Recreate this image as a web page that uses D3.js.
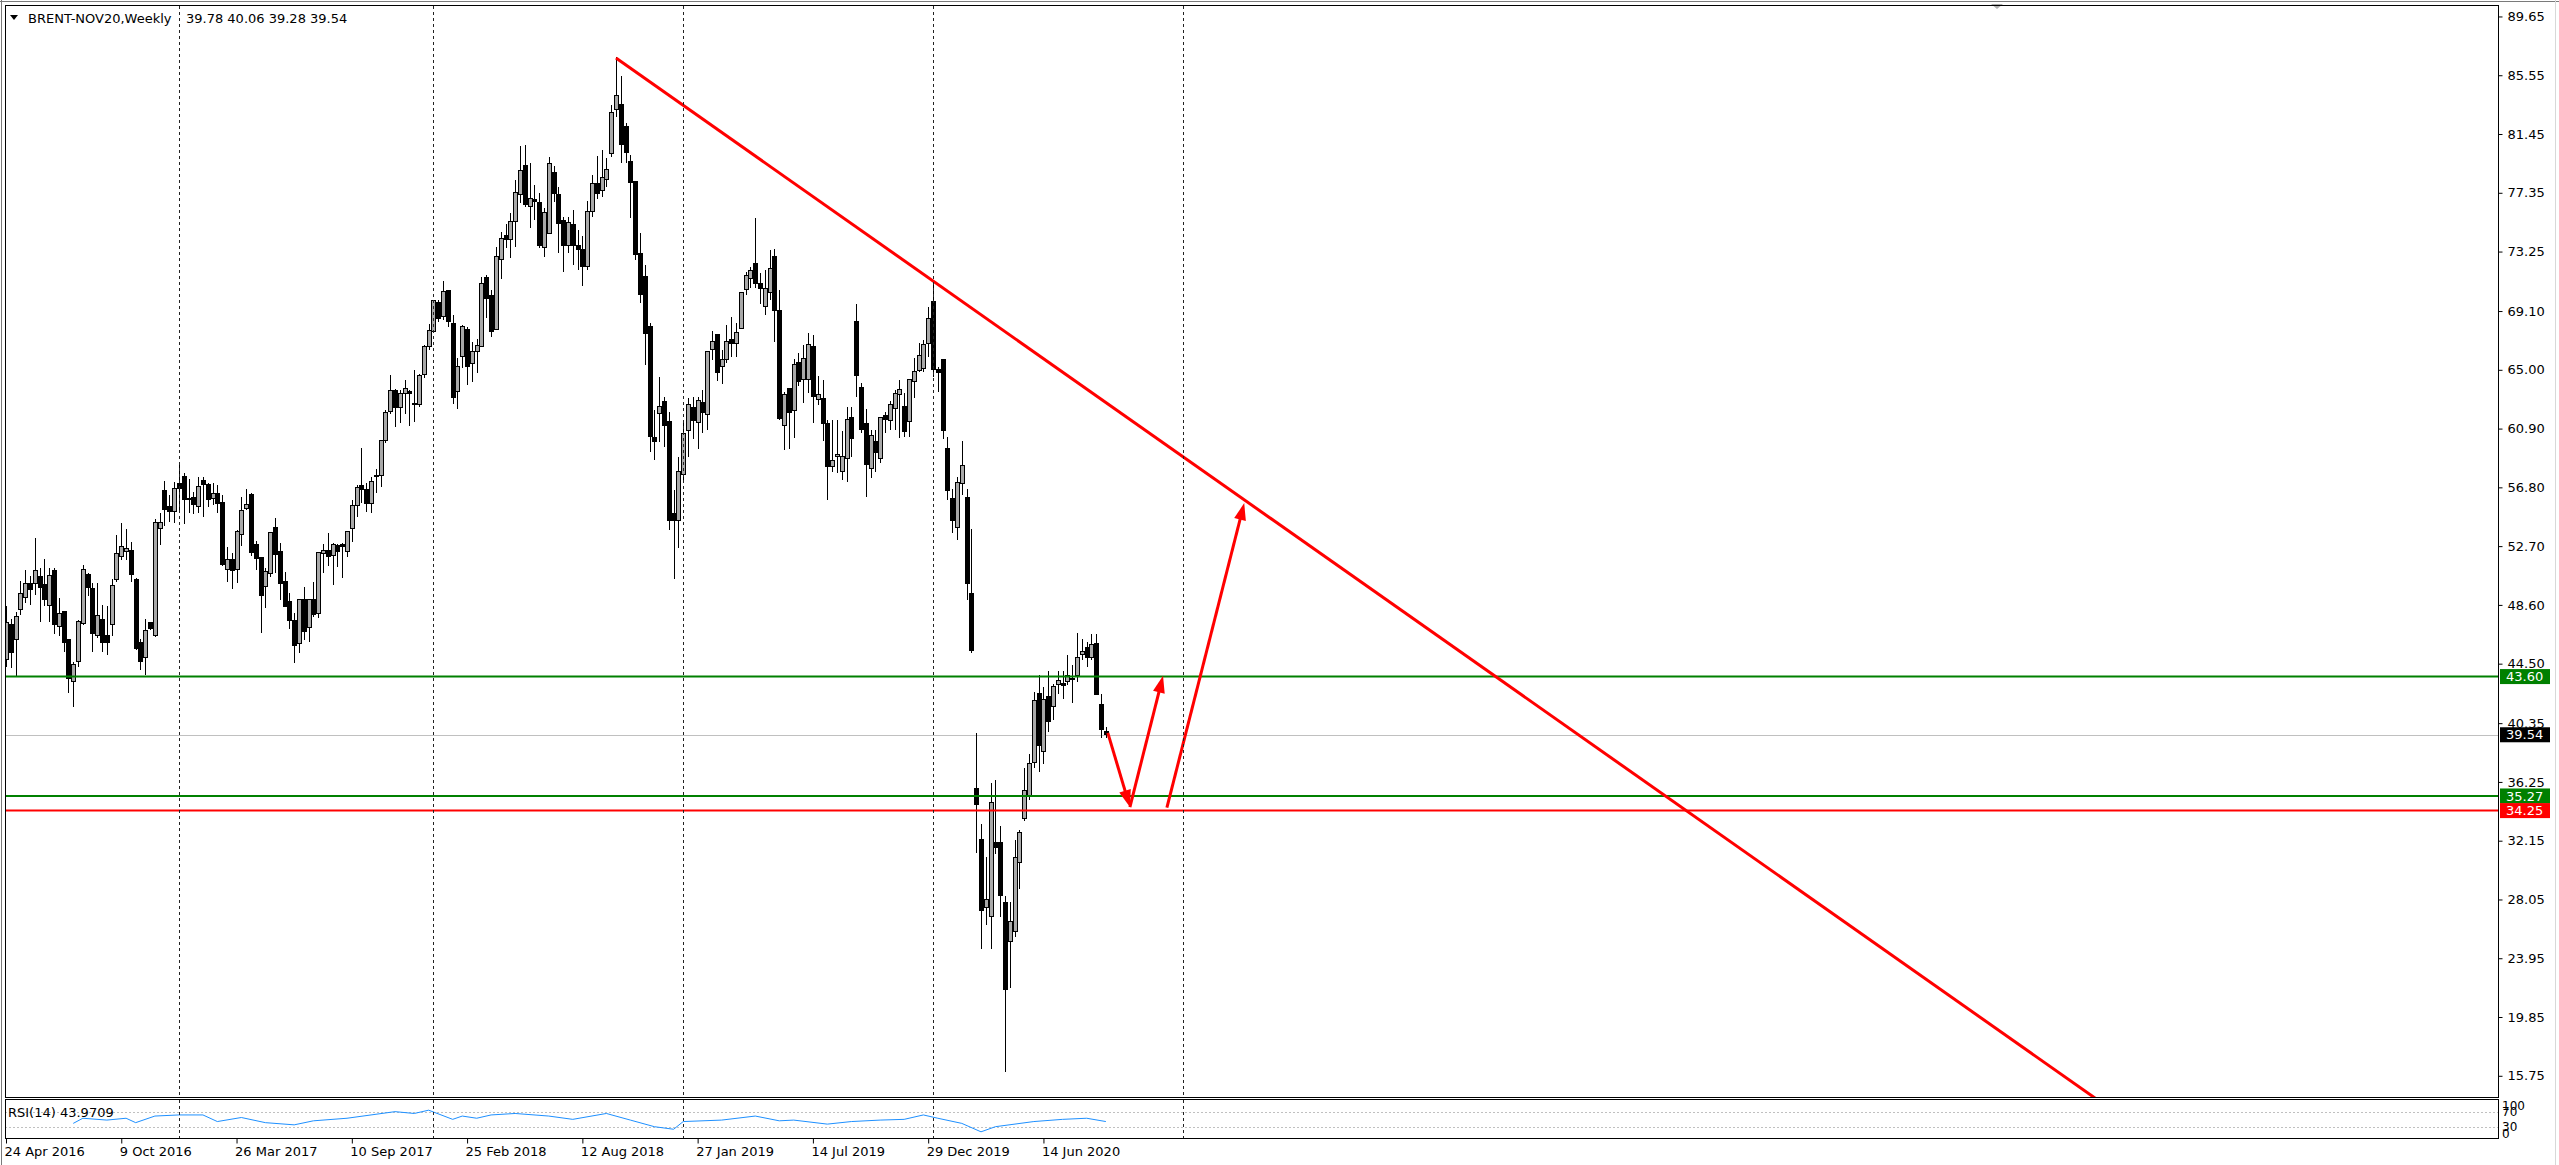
<!DOCTYPE html>
<html><head><meta charset="utf-8">
<script src="https://cdn.jsdelivr.net/npm/d3@7"></script>
<style>
html,body{margin:0;padding:0;background:#fff;overflow:hidden;}
svg{display:block;font-family:"DejaVu Sans",sans-serif;}
</style></head><body>
<svg id="c" width="2559" height="1165"></svg>
<script>
// ---- DATA (weekly bars, index 0 = week of 24 Apr 2016) ----
const opens = [44.8,47.2,46.2,48.25,49.13,50.1,50.1,50.6,49.99,48.53,50.99,47.09,48.13,46.16,43.25,44.65,47.32,50.69,49.76,46.5,47.6,46.5,47.2,50.34,51.97,52.32,52.39,50.39,45.97,44.95,47.37,46.44,53.95,56.58,55.46,55.11,57.09,57.55,56.04,56.11,55.46,57.27,56.97,56.04,56.39,55.74,51.04,51.74,51.04,53.48,55.34,56.27,52.78,51.92,49.87,50.8,53.99,52.31,50.22,48.82,47.54,45.92,48.99,47.03,48.99,48.01,52.2,52.38,52.08,52.73,52.78,52.31,53.94,55.5,56.9,56.66,55.64,57.66,57.66,60.1,62.08,63.55,62.38,63.36,63.48,62.66,62.55,64.64,66.62,67.66,69.69,68.71,70.52,68.2,63.5,65.96,67.82,65.45,66.31,66.66,71.45,70.15,67.82,72.73,74.34,74.1,75.34,77.2,79.22,76.38,76.9,76.66,73.54,74.5,78.75,77.2,75.4,73.7,75.17,73.64,73.4,72.2,76.03,78.01,77.54,78.29,80.1,83.17,83.52,81.96,79.52,78.13,73.08,71.54,68.01,60.3,61.96,62.78,61.38,54.99,54.52,57.73,60.76,62.4,61.3,62.73,61.9,66.4,67.43,65.2,65.73,67.13,66.85,67.9,70.6,71.38,72.43,71.04,69.45,70.38,72.9,69.17,61.15,63.7,62.15,65.5,64.33,64.33,66.62,62.94,63.0,61.27,58.25,58.94,57.9,58.83,61.68,68.36,63.78,61.22,58.13,60.0,58.83,61.78,61.45,62.3,63.25,62.43,61.38,64.17,64.94,65.1,66.85,69.76,65.0,65.73,59.5,56.0,54.0,57.1,56.08,49.41,35.8,32.25,27.5,26.85,32.0,32.05,27.85,25.1,25.8,30.6,33.67,35.2,37.62,42.4,38.36,42.2,41.5,43.08,43.13,43.25,43.4,43.69,45.11,45.62,44.94,45.92,41.67,39.78];
const highs = [48.5,47.6,48.1,50.3,51.0,50.6,53.3,51.2,51.8,51.2,51.2,49.1,48.13,46.16,44.65,47.56,51.4,50.8,50.1,50.16,48.6,48.5,50.4,53.5,54.34,53.88,53.0,50.46,46.2,47.6,47.44,54.57,54.99,57.27,56.27,57.2,58.37,57.78,57.37,56.5,57.5,57.5,57.1,57.1,56.97,56.27,52.66,52.2,53.83,56.1,56.66,56.38,53.08,51.92,51.15,53.64,54.64,52.94,50.92,49.4,48.0,48.99,49.87,48.99,50.22,52.24,52.85,53.64,52.9,52.85,52.9,53.71,55.92,56.97,59.52,57.08,57.55,58.1,60.1,62.2,64.64,63.64,63.59,64.29,63.59,65.0,64.71,66.73,68.2,69.87,69.87,71.22,70.52,68.8,65.8,68.13,68.0,66.96,67.13,71.5,71.61,70.57,73.6,74.64,75.2,75.96,78.24,80.6,80.68,79.45,77.9,77.31,76.27,79.82,79.22,77.78,75.68,75.68,76.15,74.75,74.34,76.8,78.59,79.92,80.33,79.75,83.48,86.8,85.5,82.2,79.99,78.13,74.52,72.31,68.24,62.2,64.52,63.13,62.08,56.6,58.9,61.3,63.0,63.1,63.1,63.6,66.3,67.7,67.43,66.4,68.1,68.7,68.3,70.45,71.85,72.2,75.57,71.73,71.97,73.36,73.4,70.57,63.48,63.7,65.73,66.2,66.7,67.6,67.43,64.6,64.3,61.5,61.5,61.5,60.7,62.4,62.4,69.6,64.1,62.3,60.8,60.8,61.73,62.08,62.82,63.6,64.29,63.36,64.34,65.8,66.85,67.1,69.41,71.15,65.2,65.73,60.3,56.7,57.5,60.04,56.67,53.87,39.65,33.3,31.0,36.2,36.4,33.2,28.3,27.85,32.2,32.9,37.2,38.2,42.55,43.7,42.85,44.0,43.1,44.0,44.0,45.1,44.4,46.62,46.2,46.04,46.55,46.55,42.36,40.06];
const lows = [44.3,44.2,43.6,47.9,48.7,48.6,49.3,47.4,48.5,47.4,46.6,46.4,45.3,42.44,41.5,44.3,47.2,49.2,45.3,46.3,45.3,45.1,46.4,50.2,51.74,51.74,50.2,45.46,44.06,43.7,46.85,46.39,52.78,54.1,54.41,54.3,55.11,54.25,55.04,54.95,55.0,54.76,55.41,55.58,54.99,51.32,50.2,49.7,50.11,52.7,55.2,52.0,51.03,46.62,48.36,50.57,50.85,48.94,48.52,46.9,44.57,45.22,46.15,46.03,47.78,47.66,50.85,51.31,50.0,51.27,50.45,51.96,53.01,54.75,55.69,55.1,54.99,56.38,56.85,59.92,61.9,60.99,61.27,61.92,61.08,61.38,62.43,64.41,66.38,67.55,68.36,68.48,67.97,62.6,62.3,65.1,63.94,64.18,64.75,66.6,68.59,67.31,67.78,71.31,73.48,72.78,73.6,76.61,76.38,74.87,75.45,73.48,72.9,74.5,76.73,73.13,71.85,73.13,72.31,71.96,70.85,71.96,75.68,76.89,77.08,77.78,79.87,82.66,79.4,79.4,75.57,72.66,69.64,65.34,59.29,58.7,59.99,59.64,53.8,50.4,52.6,57.1,58.9,60.2,59.5,60.6,60.8,65.7,64.2,64.0,65.45,65.9,65.9,67.83,70.2,70.7,70.7,69.6,68.8,69.87,66.97,61.5,59.4,59.5,60.22,63.9,62.7,63.4,61.27,62.55,60.0,55.92,57.9,57.8,57.3,57.2,58.94,63.13,60.57,56.15,57.43,57.9,58.47,60.57,60.8,60.8,60.22,60.34,60.34,63.01,64.87,64.87,65.92,64.5,63.48,60.2,55.9,53.6,53.1,56.3,48.94,45.22,31.3,24.6,26.3,24.6,31.2,26.85,16.0,21.85,25.45,28.8,33.5,35.0,37.2,36.95,37.5,39.7,40.6,42.4,42.02,42.99,41.74,43.25,44.76,44.29,44.76,42.32,39.34,39.28];
const closes = [47.4,45.3,47.78,49.4,50.06,49.65,50.99,49.8,48.99,50.64,47.2,48.02,45.97,43.48,44.41,47.44,51.09,49.83,46.58,47.83,45.99,45.99,49.92,52.2,52.67,52.55,50.69,45.58,44.65,46.81,46.97,54.34,54.34,55.27,55.11,56.74,56.74,55.97,55.92,55.57,56.85,56.97,55.92,56.34,55.69,51.39,51.74,50.99,53.71,55.17,55.57,52.24,51.85,49.29,50.92,53.64,52.15,50.06,48.52,47.54,45.8,48.99,46.73,48.99,47.9,52.24,52.38,51.96,52.78,52.31,52.66,53.71,55.5,56.78,56.62,55.64,57.2,57.55,60.1,62.03,63.59,62.38,63.36,63.71,63.36,62.55,64.57,66.62,67.73,69.83,68.59,70.45,68.36,63.1,65.2,68.0,65.22,66.26,66.73,71.03,69.99,67.66,72.9,74.13,74.06,75.34,77.36,78.9,76.5,76.96,76.73,73.64,75.96,79.4,77.31,75.2,73.64,75.26,73.7,73.36,72.2,76.03,78.01,77.31,78.43,78.99,82.94,84.17,80.73,80.15,78.06,73.01,70.22,67.54,60.34,60.0,62.43,61.15,54.52,54.52,57.9,60.57,62.6,61.45,62.83,62.0,66.3,66.97,64.83,65.73,67.0,66.85,67.6,70.38,71.55,71.92,71.04,70.7,70.7,72.08,69.17,61.62,63.3,62.0,65.38,64.2,65.78,66.8,63.17,63.25,61.27,58.25,58.64,59.06,58.94,61.5,60.22,64.57,60.85,58.36,60.45,59.2,61.68,61.5,62.6,63.36,63.6,60.69,64.34,64.87,66.03,66.8,68.6,64.99,64.8,60.76,56.57,54.5,57.15,58.3,50.1,45.45,34.7,27.3,28.08,34.8,31.7,28.3,21.8,26.5,31.0,32.7,35.65,37.55,41.92,38.8,41.97,40.45,42.9,43.36,42.99,43.64,43.5,44.94,45.34,44.94,45.85,42.32,39.88,39.54];

const rsiBars   = [14,16,21,25,27,31,36,41,44,49,54,60,64,71,76,81,85,88,93,95,98,101,106,113,118,125,130,135,139,141,149,156,161,164,171,176,182,187,191,194,199,203,206,214,220,225,229];
const rsiValues = [39,53,48,53,41,59,62,62,44,55,41,35,46,53,62,71,66,75,50,59,53,62,66,59,50,66,48,30,23,44,48,59,46,48,37,44,48,50,62,53,39,16,30,44,50,53,44];

const priceTicks = [89.65,85.55,81.45,77.35,73.25,69.10,65.00,60.90,56.80,52.70,48.60,44.50,40.35,36.25,32.15,28.05,23.95,19.85,15.75];
const dateBars   = [0,24,48,72,96,120,144,168,192,216];
const dateLabels = ["24 Apr 2016","9 Oct 2016","26 Mar 2017","10 Sep 2017","25 Feb 2018","12 Aug 2018","27 Jan 2019","14 Jul 2019","29 Dec 2019","14 Jun 2020"];
const separatorBars = [36,89,141,193,245];

const greenLevels = [43.60, 35.27];
const redLevel = 34.25;
const bidPrice = 39.54;
const trendBars = [127, 193];
const trendPrices = [86.75, 71.2];
const arrowBars   = [[229.4, 234.0], [234.0, 240.9], [241.7, 257.8]];
const arrowPrices = [[39.67, 34.5], [34.5, 43.65], [34.45, 55.7]];
const titleText = "BRENT-NOV20,Weekly";
const ohlcText = "39.78 40.06 39.28 39.54";
const rsiLabel = "RSI(14) 43.9709";

// ---- LAYOUT ----
const W = 2559, H = 1165;
const L = 5, R = 2498, T = 5, B = 1097;
const RT = 1099, RB = 1138;
const svg = d3.select("#c");

const x = d3.scaleLinear().domain([0, 229]).range([6, 6 + 229 * 4.803]);
const y = d3.scaleLinear().domain([14.27, 90.45]).range([B, T]);
const yr = d3.scaleLinear().domain([0, 100]).range([1137.7, 1101]);

svg.append("rect").attr("width", W).attr("height", H).attr("fill", "#fff");

const defs = svg.append("defs");
defs.append("clipPath").attr("id", "mainClip").append("rect")
  .attr("x", L + 1).attr("y", T + 1).attr("width", R - L - 1).attr("height", B - T - 1);
defs.append("clipPath").attr("id", "rsiClip").append("rect")
  .attr("x", L + 1).attr("y", RT + 1).attr("width", R - L - 1).attr("height", RB - RT - 1);

// outer window edges
svg.append("line").attr("x1", 1.5).attr("x2", 1.5).attr("y1", 0).attr("y2", H).attr("stroke", "#7a7a7a");
svg.append("line").attr("x1", 0).attr("x2", W).attr("y1", 1.5).attr("y2", 1.5).attr("stroke", "#7a7a7a");
svg.append("line").attr("x1", W - 3.5).attr("x2", W - 3.5).attr("y1", 0).attr("y2", H).attr("stroke", "#d8d8d8");

const main = svg.append("g").attr("clip-path", "url(#mainClip)");
const rsiG = svg.append("g").attr("clip-path", "url(#rsiClip)");

// period separators
separatorBars.forEach(b => {
  const xx = Math.round(x(b)) + 0.5;
  svg.append("line").attr("x1", xx).attr("x2", xx).attr("y1", T + 1).attr("y2", B)
    .attr("stroke", "#222").attr("stroke-dasharray", "3,3");
  svg.append("line").attr("x1", xx).attr("x2", xx).attr("y1", RT + 1).attr("y2", RB)
    .attr("stroke", "#222").attr("stroke-dasharray", "3,3");
});

// bid line
main.append("line").attr("x1", L).attr("x2", R).attr("y1", Math.round(y(bidPrice)) + 0.5).attr("y2", Math.round(y(bidPrice)) + 0.5)
  .attr("stroke", "#c0c0c0").attr("stroke-width", 1);

// candles
const idx = d3.range(closes.length);
const cg = main.append("g").attr("shape-rendering", "crispEdges");
cg.selectAll("line.wick").data(idx).join("line").attr("class", "wick")
  .attr("x1", i => Math.round(x(i)) + 0.5).attr("x2", i => Math.round(x(i)) + 0.5)
  .attr("y1", i => y(highs[i])).attr("y2", i => y(lows[i]))
  .attr("stroke", "#000").attr("stroke-width", 1);
cg.selectAll("rect.body").data(idx).join("rect").attr("class", "body")
  .attr("x", i => Math.round(x(i)) - 1.5)
  .attr("width", 4)
  .attr("y", i => y(Math.max(opens[i], closes[i])))
  .attr("height", i => Math.max(1, Math.abs(y(opens[i]) - y(closes[i]))))
  .attr("fill", i => closes[i] >= opens[i] ? "#a8a8a8" : "#000")
  .attr("stroke", "#000").attr("stroke-width", 1);

// horizontal levels
greenLevels.forEach(p => {
  main.append("line").attr("x1", L).attr("x2", R).attr("y1", y(p)).attr("y2", y(p))
    .attr("stroke", "#008000").attr("stroke-width", 2);
});
main.append("line").attr("x1", L).attr("x2", R).attr("y1", y(redLevel)).attr("y2", y(redLevel))
  .attr("stroke", "#ff0000").attr("stroke-width", 2);

// trendline (ray)
const slope = (trendPrices[1] - trendPrices[0]) / (trendBars[1] - trendBars[0]);
const endPrice = y.domain()[0] - 1;
const endBar = trendBars[0] + (endPrice - trendPrices[0]) / slope;
main.append("line")
  .attr("x1", x(trendBars[0])).attr("y1", y(trendPrices[0]))
  .attr("x2", x(endBar)).attr("y2", y(endPrice))
  .attr("stroke", "#ff0000").attr("stroke-width", 3);

// arrows
arrowBars.forEach((bb, k) => {
  const x1 = x(bb[0]), y1 = y(arrowPrices[k][0]);
  const x2 = x(bb[1]), y2 = y(arrowPrices[k][1]);
  const dx = x2 - x1, dy = y2 - y1, len = Math.hypot(dx, dy);
  const ux = dx / len, uy = dy / len;
  const hl = 17, hw = 6;
  const bx = x2 - ux * hl, by = y2 - uy * hl;
  main.append("line").attr("x1", x1).attr("y1", y1).attr("x2", bx + ux * 2).attr("y2", by + uy * 2)
    .attr("stroke", "#ff0000").attr("stroke-width", 3);
  main.append("path")
    .attr("d", `M${x2},${y2}L${bx - uy * hw},${by + ux * hw}L${bx + uy * hw},${by - ux * hw}Z`)
    .attr("fill", "#ff0000");
});

// chart-shift marker
svg.append("path").attr("d", "M1991,4L2003,4L1997,9Z").attr("fill", "#b0b0b0");

// panel borders
svg.append("rect").attr("x", L + 0.5).attr("y", T + 0.5).attr("width", R - L).attr("height", B - T)
  .attr("fill", "none").attr("stroke", "#000");
svg.append("rect").attr("x", L + 0.5).attr("y", RT + 0.5).attr("width", R - L).attr("height", RB - RT)
  .attr("fill", "none").attr("stroke", "#000");

// price axis
const yAxis = d3.axisRight(y).tickValues(priceTicks).tickSize(4).tickPadding(5)
  .tickFormat(d => d.toFixed(2));
const ya = svg.append("g").attr("transform", `translate(${R + 0.5},0)`).call(yAxis);
ya.select(".domain").remove();
ya.selectAll("text").attr("font-family", "DejaVu Sans").attr("font-size", 13).attr("fill", "#000");
ya.selectAll("line").attr("stroke", "#000");

// price level tags
function tag(p, bg, txt) {
  const yy = y(p);
  svg.append("rect").attr("x", R + 2).attr("y", yy - 7.5).attr("width", 50).attr("height", 15).attr("fill", bg);
  svg.append("text").attr("x", R + 8).attr("y", yy).attr("dy", "0.36em").attr("font-size", 13)
    .attr("fill", "#fff").text(txt);
}
tag(greenLevels[0], "#008000", greenLevels[0].toFixed(2));
tag(bidPrice, "#000", bidPrice.toFixed(2));
tag(greenLevels[1], "#008000", greenLevels[1].toFixed(2));
tag(redLevel, "#ff0000", redLevel.toFixed(2));

// RSI panel
[70, 30].forEach(v => {
  rsiG.append("line").attr("x1", L).attr("x2", R).attr("y1", Math.round(yr(v)) + 0.5).attr("y2", Math.round(yr(v)) + 0.5)
    .attr("stroke", "#c0c0c0").attr("stroke-dasharray", "2,2");
});
rsiG.append("path").datum(rsiBars.map((b, k) => [b, rsiValues[k]]))
  .attr("d", d3.line().x(d => x(d[0])).y(d => yr(d[1])))
  .attr("fill", "none").attr("stroke", "#1e90ff").attr("stroke-width", 1);
svg.append("text").attr("x", 8).attr("y", 1112).attr("dy", "0.36em").attr("font-size", 13).attr("fill", "#000").text(rsiLabel);
// RSI scale labels (the terminal stacks 100/70 and 30/0 on top of each other)
svg.append("text").attr("x", R + 4).attr("y", 1110).attr("font-size", 12).attr("fill", "#000").text("100");
svg.append("text").attr("x", R + 4).attr("y", yr(70)).attr("dy", "0.36em").attr("font-size", 12).attr("fill", "#000").text("70");
svg.append("text").attr("x", R + 4).attr("y", yr(30)).attr("dy", "0.36em").attr("font-size", 12).attr("fill", "#000").text("30");
svg.append("text").attr("x", R + 4).attr("y", 1138).attr("font-size", 12).attr("fill", "#000").text("0");

// date axis
const xAxis = d3.axisBottom(x).tickValues(dateBars).tickSize(5).tickPadding(3)
  .tickFormat((d, k) => dateLabels[k]);
const xa = svg.append("g").attr("transform", `translate(0,${RB + 0.5})`).call(xAxis);
xa.select(".domain").remove();
xa.selectAll("text").attr("font-family", "DejaVu Sans").attr("font-size", 13).attr("fill", "#000")
  .attr("text-anchor", "start").attr("dx", "-2");
xa.selectAll("line").attr("stroke", "#000");

// title
svg.append("path").attr("d", "M10,15L18,15L14,20Z").attr("fill", "#000");
svg.append("text").attr("x", 28).attr("y", 18).attr("dy", "0.36em").attr("font-size", 13).attr("fill", "#000").text(titleText);
svg.append("text").attr("x", 186).attr("y", 18).attr("dy", "0.36em").attr("font-size", 13).attr("fill", "#000").text(ohlcText);
</script>
</body></html>
